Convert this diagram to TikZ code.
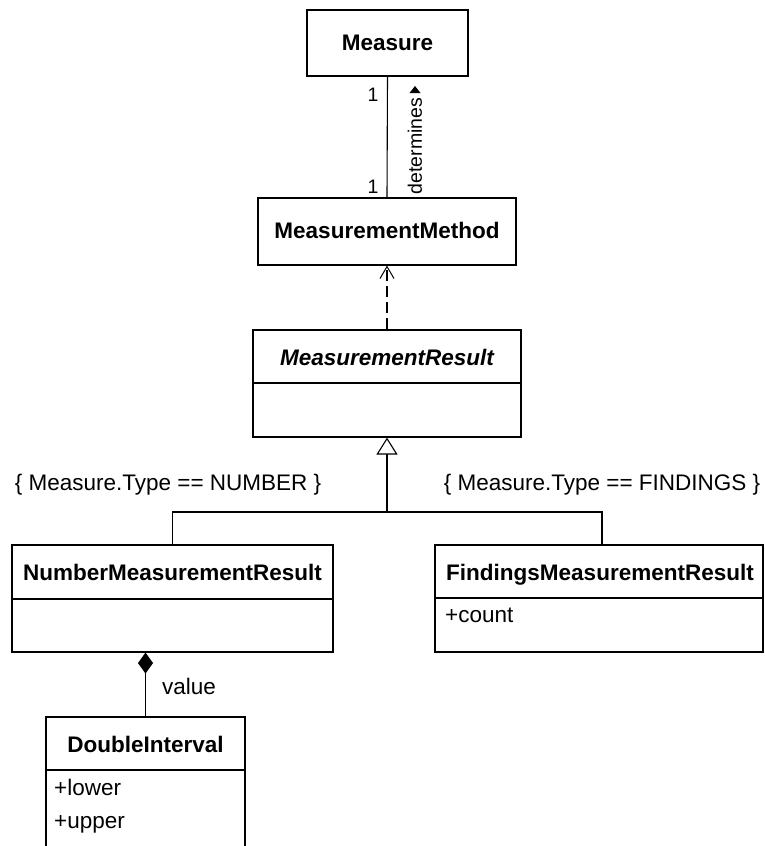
\documentclass[tikz,border=0pt]{standalone}
\usepackage{fontspec}
\setmainfont{Liberation Sans}
\usetikzlibrary{arrows.meta}
\tikzset{
  umlbox/.style={draw=black, line width=1.1pt, inner sep=0pt, fill=none},
  titletext/.style={inner sep=0pt, anchor=base, font=\fontsize{22.5}{27}\selectfont\bfseries},
  attrtext/.style={inner sep=0pt, anchor=base west, font=\fontsize{22.5}{27}\selectfont},
  labeltext/.style={inner sep=0pt, anchor=base, font=\fontsize{22.5}{27}\selectfont},
  smalltext/.style={inner sep=0pt, font=\fontsize{19.5}{23}\selectfont},
  conn/.style={line width=1.1pt, draw=black},
}
\begin{document}
\begin{tikzpicture}[x=1pt, y=-1pt]
\clip (0,0) rectangle (764,846);
\useasboundingbox (0,0) rectangle (764,846);
\fill[white] (0,0) rectangle (764,846);

% boxes
\node[umlbox, minimum width=161pt, minimum height=66pt] (measure) at (387.5,43) {};
\node[umlbox, minimum width=258pt, minimum height=67pt] (mm) at (387,231.5) {};
\node[umlbox, minimum width=268pt, minimum height=107pt] (mr) at (387,383.5) {};
\node[umlbox, minimum width=321pt, minimum height=107pt] (nmr) at (172.5,598.5) {};
\node[umlbox, minimum width=328pt, minimum height=107pt] (fmr) at (599,598.5) {};
\node[umlbox, minimum width=199pt, minimum height=160pt] (di) at (145.5,797) {};

% dividers
\draw[conn] (mr.west |- 0,383) -- (mr.east |- 0,383);
\draw[conn] (nmr.west |- 0,599) -- (nmr.east |- 0,599);
\draw[conn] (fmr.west |- 0,598) -- (fmr.east |- 0,598);
\draw[conn] (di.west |- 0,770) -- (di.east |- 0,770);

% titles
\node[titletext] (tmeasure) at (387.5,50) {Measure};
\node[titletext] (tmm) at (387,238) {MeasurementMethod};
\node[titletext, font=\fontsize{22.5}{27}\selectfont\bfseries\itshape] (tmr) at (387,365) {MeasurementResult};
\node[titletext] (tnmr) at (172.5,580) {NumberMeasurementResult};
\node[titletext] (tfmr) at (600,580) {FindingsMeasurementResult};
\node[titletext] (tdi) at (145.5,752) {DoubleInterval};

% attributes
\node[attrtext] (count) at (445,622) {+count};
\node[attrtext] (lower) at (54,795) {+lower};
\node[attrtext] (upper) at (54,828) {+upper};

% association Measure -- MeasurementMethod
\draw[conn] (measure.south) -- (mm.north);
\node[smalltext, anchor=base] (one1) at (373,101) {1};
\node[smalltext, anchor=base] (one2) at (373,193) {1};
\node[smalltext, rotate=90, anchor=center] (determines) at (415,146) {determines};
\fill[black] (415,86) -- (420.5,93) -- (409.5,93) -- cycle;

% dependency
\draw[conn, dash pattern=on 11pt off 5pt, -{Straight Barb[length=12pt,width=14pt,line width=1pt]}] (mr.north) -- (mm.south);

% generalization
\coordinate (j) at (387,512);
\draw[conn, -{Triangle[open,length=17pt,width=21pt,fill=white]}] (j) -- (mr.south);
\draw[conn] (nmr.north) |- (j) -| ([xshift=3pt]fmr.north);
\node[labeltext] (c1) at (168,490) {\{ Measure.Type == NUMBER \}};
\node[labeltext] (c2) at (602,490) {\{ Measure.Type == FINDINGS \}};

% composition
\draw[conn, {Diamond[length=21pt,width=15pt]}-] (di.north |- nmr.south) -- (di.north);
\node[attrtext] (value) at (162,694) {value};
\end{tikzpicture}
\end{document}
